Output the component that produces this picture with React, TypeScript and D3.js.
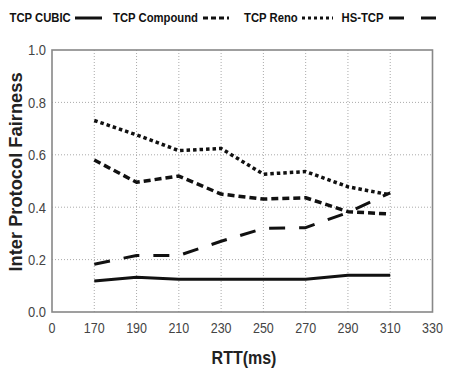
import React from "react";
import * as d3 from "d3";

const categories = ["0", "170", "190", "210", "230", "250", "270", "290", "310", "330"];
const rtt = ["170", "190", "210", "230", "250", "270", "290", "310"];
const cubic = [0.118, 0.133, 0.125, 0.125, 0.125, 0.125, 0.14, 0.14];
const compound = [0.58, 0.495, 0.519, 0.45, 0.431, 0.436, 0.383, 0.374];
const reno = [0.731, 0.676, 0.616, 0.624, 0.526, 0.536, 0.478, 0.447];
const hstcp = [0.182, 0.216, 0.216, 0.27, 0.319, 0.322, 0.38, 0.455];
const yTicks = [0, 0.2, 0.4, 0.6, 0.8, 1.0];
const gridX = ["170", "190", "210", "230", "250", "270", "290", "310"];

const seriesList = [
  { name: "TCP CUBIC", values: cubic, dash: "none", width: 3 },
  { name: "TCP Compound", values: compound, dash: "7,4", width: 3.5 },
  { name: "TCP Reno", values: reno, dash: "3.5,3", width: 3.5 },
  { name: "HS-TCP", values: hstcp, dash: "16,14", width: 3 },
];

const W = 453, H = 374;
const L = 52, R = 432.5, T = 50, B = 312;
const SY = 1.15;

export default function App() {
  const x = d3.scalePoint<string>().domain(categories).range([L, R]).padding(0);
  const y = d3.scaleLinear().domain([0, 1]).range([B, T]);
  const line = d3
    .line<number>()
    .x((_, i) => x(rtt[i]) as number)
    .y((d) => y(d));
  const fmt = d3.format(".1f");

  const legendItems = [
    { text: "TCP CUBIC", tx: 9.5, lx1: 75, lx2: 102, dash: "none" },
    { text: "TCP Compound", tx: 113, lx1: 203, lx2: 229, dash: "5,3" },
    { text: "TCP Reno", tx: 244, lx1: 302, lx2: 333, dash: "3,3" },
    { text: "HS-TCP", tx: 341.5, lx1: 389, lx2: 437, dash: "15,17" },
  ];

  return (
    <svg
      width={W}
      height={H}
      style={{ position: "absolute", left: 0, top: 0, background: "#fff" }}
      fontFamily="'Liberation Sans', Arial, Helvetica, sans-serif"
    >
      {/* legend */}
      {legendItems.map((d) => (
        <g key={d.text}>
          <text
            transform={`translate(${d.tx},22) scale(1,${SY})`}
            fontSize={11.3}
            fontWeight="bold"
            fill="#111"
          >
            {d.text}
          </text>
          <line
            x1={d.lx1}
            x2={d.lx2}
            y1={18}
            y2={18}
            stroke="#111"
            strokeWidth={3}
            strokeDasharray={d.dash}
          />
        </g>
      ))}

      {/* grid */}
      {yTicks
        .filter((t) => t > 0 && t < 1)
        .map((t) => (
          <line
            key={"gy" + t}
            x1={L}
            x2={R}
            y1={y(t)}
            y2={y(t)}
            stroke="#aaa"
            strokeWidth={1}
            strokeDasharray="1,2"
          />
        ))}
      {gridX.map((c) => (
        <line
          key={"gx" + c}
          x1={x(c)}
          x2={x(c)}
          y1={T}
          y2={B}
          stroke="#aaa"
          strokeWidth={1}
          strokeDasharray="1,2"
        />
      ))}

      {/* series */}
      {seriesList.map((s) => (
        <path
          key={s.name}
          d={line(s.values) as string}
          fill="none"
          stroke="#111"
          strokeWidth={s.width}
          strokeDasharray={s.dash}
          strokeLinejoin="round"
        />
      ))}

      {/* border */}
      <rect x={L} y={T} width={R - L} height={B - T} fill="none" stroke="#888" strokeWidth={1.6} />

      {/* y ticks */}
      {yTicks.map((t) => (
        <text
          key={"yt" + t}
          transform={`translate(46,${y(t)}) scale(1,${SY})`}
          dy="0.36em"
          textAnchor="end"
          fontSize={13}
          fill="#444"
        >
          {fmt(t)}
        </text>
      ))}

      {/* x ticks */}
      {categories.map((c) => (
        <text
          key={"xt" + c}
          transform={`translate(${x(c)},333) scale(1,${SY})`}
          textAnchor="middle"
          fontSize={12.5}
          fill="#444"
        >
          {c}
        </text>
      ))}

      {/* axis titles */}
      <text
        transform={`translate(244,364) scale(1,${SY})`}
        textAnchor="middle"
        fontSize={16}
        fontWeight="bold"
        fill="#222"
      >
        RTT(ms)
      </text>
      <text
        transform="translate(22,172) rotate(-90)"
        textAnchor="middle"
        fontSize={18.3}
        fontWeight="bold"
        fill="#222"
      >
        Inter Protocol Fairness
      </text>
    </svg>
  );
}
